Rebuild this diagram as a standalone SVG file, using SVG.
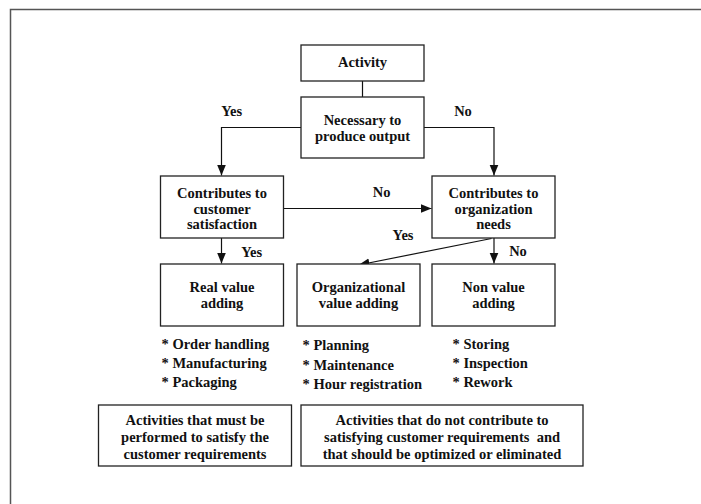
<svg xmlns="http://www.w3.org/2000/svg" width="701" height="504" viewBox="0 0 701 504">
<style>
.box{fill:#fff;stroke:#222;stroke-width:1.3}
.t{font-family:"Liberation Serif","Times New Roman",serif;font-weight:bold;font-size:14.5px;fill:#111}
.c{text-anchor:middle}
.ln{fill:none;stroke:#111;stroke-width:1.2}
</style>
<defs>
<marker id="ah" markerUnits="userSpaceOnUse" markerWidth="12" markerHeight="12" viewBox="0 0 12 12" refX="11" refY="6" orient="auto">
<path d="M0,1.5 L11,6 L0,10.5 Z" fill="#111"/>
</marker>
</defs>
<rect width="701" height="504" fill="#fff"/>
<path d="M10.5,504 V9.5 H701" fill="none" stroke="#555" stroke-width="1.5"/>
<g id="connectors">
<line class="ln" x1="362.5" y1="81" x2="362.5" y2="97"/>
<path class="ln" d="M301,127.5 H221.5 V175.5" marker-end="url(#ah)"/>
<path class="ln" d="M424,127.5 H494 V175.5" marker-end="url(#ah)"/>
<path class="ln" d="M283,208.5 H431.5" marker-end="url(#ah)"/>
<path class="ln" d="M221.5,238 V263.5" marker-end="url(#ah)"/>
<path class="ln" d="M491.5,238.5 L358.5,265" marker-end="url(#ah)"/>
<path class="ln" d="M494,238 V263.5" marker-end="url(#ah)"/>
<text class="t c" x="231.7" y="116">Yes</text>
<text class="t c" x="463" y="116">No</text>
<text class="t c" x="381.7" y="197">No</text>
<text class="t c" x="403" y="240">Yes</text>
<text class="t c" x="251.7" y="257">Yes</text>
<text class="t c" x="518" y="256">No</text>
</g>
<g id="activity">
<rect class="box" x="301" y="45" width="123" height="36"/>
<text class="t c" x="362.5" y="67">Activity</text>
</g>
<g id="necessary">
<rect class="box" x="301" y="97" width="123" height="61"/>
<text class="t c" x="362.5" y="125">Necessary to</text>
<text class="t c" x="362.5" y="141">produce output</text>
</g>
<g id="customer">
<rect class="box" x="160.5" y="176" width="123" height="62"/>
<text class="t c" x="222" y="198">Contributes to</text>
<text class="t c" x="222" y="213.5">customer</text>
<text class="t c" x="222" y="229">satisfaction</text>
</g>
<g id="organization">
<rect class="box" x="432" y="176" width="123" height="62"/>
<text class="t c" x="493.5" y="198">Contributes to</text>
<text class="t c" x="493.5" y="213.5">organization</text>
<text class="t c" x="493.5" y="229">needs</text>
</g>
<g id="real">
<rect class="box" x="160.5" y="264" width="123" height="62"/>
<text class="t c" x="222" y="292">Real value</text>
<text class="t c" x="222" y="308">adding</text>
</g>
<g id="orgvalue">
<rect class="box" x="297" y="264" width="123" height="62"/>
<text class="t c" x="358.5" y="292">Organizational</text>
<text class="t c" x="358.5" y="308">value adding</text>
</g>
<g id="nonvalue">
<rect class="box" x="432" y="264" width="123" height="62"/>
<text class="t c" x="493.5" y="292">Non value</text>
<text class="t c" x="493.5" y="308">adding</text>
</g>
<g id="list-real">
<text class="t" x="161.5" y="349">* Order handling</text>
<text class="t" x="161.5" y="368">* Manufacturing</text>
<text class="t" x="161.5" y="387">* Packaging</text>
</g>
<g id="list-org">
<text class="t" x="302.5" y="350">* Planning</text>
<text class="t" x="302.5" y="370">* Maintenance</text>
<text class="t" x="302.5" y="389">* Hour registration</text>
</g>
<g id="list-non">
<text class="t" x="452.5" y="349">* Storing</text>
<text class="t" x="452.5" y="368">* Inspection</text>
<text class="t" x="452.5" y="387">* Rework</text>
</g>
<g id="must">
<rect class="box" x="98.5" y="405" width="193" height="61"/>
<text class="t c" x="195" y="425">Activities that must be</text>
<text class="t c" x="195" y="442">performed to satisfy the</text>
<text class="t c" x="195" y="459">customer requirements</text>
</g>
<g id="notcontribute">
<rect class="box" x="301" y="405" width="282" height="61"/>
<text class="t c" x="442" y="425">Activities that do not contribute to</text>
<text class="t c" x="442" y="442" xml:space="preserve">satisfying customer requirements  and</text>
<text class="t c" x="442" y="459">that should be optimized or eliminated</text>
</g>
</svg>
